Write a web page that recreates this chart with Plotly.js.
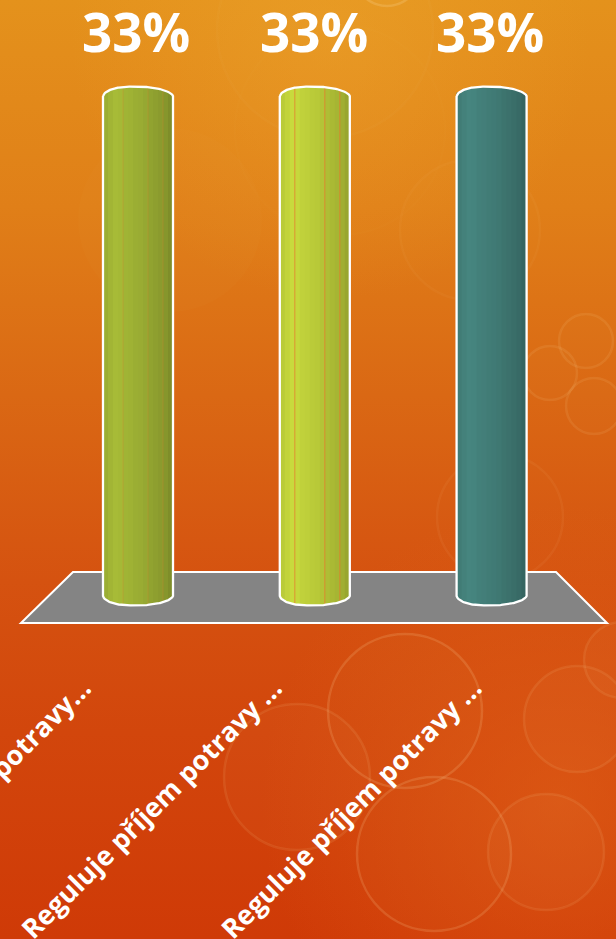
<!DOCTYPE html>
<html>
<head>
<meta charset="utf-8">
<script src="https://cdn.plot.ly/plotly-3.0.1.min.js"></script>
<style>
html,body{margin:0;padding:0;width:616px;height:939px;overflow:hidden}
body{background:
  radial-gradient(circle at 330px 40px,rgba(240,170,50,.35),rgba(240,170,50,0) 260px),
  radial-gradient(circle at 560px 800px,rgba(225,100,25,.55),rgba(225,100,25,0) 300px),
  linear-gradient(180deg,#e4921c 0%,#e07f18 22%,#da6814 42%,#d55210 62%,#d2460c 78%,#cf3a07 100%)}
#chart{width:616px;height:939px}
</style>
</head>
<body>
<div id="chart"></div>
<script>
// Survey answers
const categories = ['Reguluje příjem potravy...', 'Reguluje příjem potravy ...', 'Reguluje příjem potravy ...'];
const shares = [33, 33, 33];
const barColors = ['#a7bb37', '#c8da3d', '#46857f'];

// Category slots and where each slanted label ends
const slots = [0, 1, 2];
const labelSlots = [-0.31, 0.77, 1.9];
const valueTextShift = [-2, -1, -2];

// Plot geometry
const W = 616, H = 939, plotH = 640;
const pxPerSlot = 176.8, pxPerUnit = 15.15;
const zeroX = 138, zeroY = 596;
const xRange = [-zeroX / pxPerSlot, (W - zeroX) / pxPerSlot];
const yRange = [(zeroY - plotH) / pxPerUnit, zeroY / pxPerUnit];
const px = x => x / W;
const py = y => 1 - y / plotH;

// Cylinder look: banded shading across the width, plus faint seams between some bands
const bands = [0.93, 0.97, 1.0, 0.99, 0.96, 0.95, 0.93, 0.92, 0.9, 0.87, 0.85, 0.83, 0.8, 0.76];
const seams = [[3, 8, 11], [2, 8, 11], []];
const seamColors = ['rgba(215,130,45,0.3)', 'rgba(235,120,45,0.65)', 'rgba(0,0,0,0)'];
const radius = 0.198, capDepth = 0.62;

function shade(hex, k) {
  const n = parseInt(hex.slice(1), 16);
  const c = [n >> 16, (n >> 8) & 255, n & 255].map(v => Math.round(v * k));
  return `rgb(${c[0]},${c[1]},${c[2]})`;
}
// Height of the rounded cap at position t (-1 left edge, 1 right edge)
function cap(t) {
  const s = Math.min(1, Math.abs(t + 0.1 * (1 - t * t)));
  return capDepth * Math.pow(1 - Math.pow(s, 2.6), 0.62);
}

const traces = [];
slots.forEach((slot, i) => {
  const n = bands.length, step = 2 * radius / n;
  const xs = [], bases = [], tops = [], widths = [], cols = [];
  bands.forEach((k, j) => {
    const t = -1 + (2 * j + 1) / n;
    const d = cap(t);
    const left = slot - radius + j * step;
    const right = left + step + (j === n - 1 ? 0 : 0.005);
    xs.push((left + right) / 2);
    widths.push(right - left);
    bases.push(-d);
    tops.push(shares[i] + 2 * d);
    cols.push(shade(barColors[i], k));
  });
  traces.push({
    type: 'bar', x: xs, y: tops, base: bases, width: widths,
    marker: {color: cols, line: {width: 0}}, hoverinfo: 'skip', showlegend: false
  });
  // Hairline seams laid over the bands
  if (seams[i].length) {
    const edge = j => -1 + 2 * (j + 1) / n;
    traces.push({
      type: 'bar',
      x: seams[i].map(j => slot + edge(j) * radius),
      y: seams[i].map(j => shares[i] + 2 * cap(edge(j))),
      base: seams[i].map(j => -cap(edge(j))),
      width: seams[i].map(() => 0.006),
      marker: {color: seamColors[i], line: {width: 0}}, hoverinfo: 'skip', showlegend: false
    });
  }
  // White silhouette around the cylinder
  const ox = [], oy = [];
  for (let a = -40; a <= 40; a++) { const t = a / 40; ox.push(slot + t * radius); oy.push(shares[i] + cap(t)); }
  for (let a = 40; a >= -40; a--) { const t = a / 40; ox.push(slot + t * radius); oy.push(-cap(t)); }
  ox.push(ox[0]); oy.push(oy[0]);
  traces.push({
    type: 'scatter', mode: 'lines', x: ox, y: oy,
    line: {color: '#fff', width: 2.3}, hoverinfo: 'skip', showlegend: false
  });
});

// Soft bokeh discs behind the chart: [cx, cy, r, fill opacity, ring opacity]
const bokeh = [
  [325, 30, 108, 0.012, 0.035], [387, -27, 33, 0.03, 0.2], [340, 130, 105, 0.006, 0.015],
  [470, 230, 70, 0.012, 0.04], [170, 220, 92, 0.015, 0],
  [586, 341, 27, 0.015, 0.1], [550, 373, 27, 0.015, 0.1], [594, 406, 28, 0.015, 0.1],
  [500, 517, 63, 0.012, 0.06], [405, 711, 77, 0.02, 0.16], [297, 777, 73, 0.03, 0.1],
  [434, 854, 77, 0.02, 0.16], [577, 719, 53, 0.03, 0.1], [546, 852, 58, 0.035, 0.1],
  [622, 660, 38, 0.03, 0.1]
];
const shapes = bokeh.map(([cx, cy, r, f, o]) => ({
  type: 'circle', xref: 'paper', yref: 'paper', layer: 'below',
  x0: px(cx - r), x1: px(cx + r), y0: py(cy + r), y1: py(cy - r),
  fillcolor: `rgba(255,230,170,${f})`, line: {color: `rgba(255,225,170,${o})`, width: o ? 2.5 : 0}
}));
// Grey floor plate the cylinders stand on
shapes.push({
  type: 'path', xref: 'paper', yref: 'paper', layer: 'below',
  path: `M ${px(73)} ${py(572)} L ${px(556)} ${py(572)} L ${px(607)} ${py(623)} L ${px(21)} ${py(623)} Z`,
  fillcolor: '#848484', line: {color: '#fff', width: 2}
});

const annotations = slots.map((slot, i) => ({
  x: slot, y: shares[i], xref: 'x', yref: 'y',
  text: shares[i] + '%', showarrow: false,
  xanchor: 'center', yanchor: 'bottom', xshift: valueTextShift[i], yshift: 26,
  font: {family: '"Open Sans", sans-serif', size: 53, color: '#fff', weight: 700}
}));

const layout = {
  width: W, height: H,
  margin: {l: 0, r: 0, t: 0, b: H - plotH, pad: 0},
  paper_bgcolor: 'rgba(0,0,0,0)', plot_bgcolor: 'rgba(0,0,0,0)',
  barmode: 'overlay', showlegend: false,
  xaxis: {
    range: xRange, tickmode: 'array', tickvals: labelSlots, ticktext: categories,
    tickangle: -45, ticks: '', showgrid: false, zeroline: false, showline: false,
    automargin: false, ticklabelstandoff: 26, ticklabeloverflow: 'allow',
    tickfont: {family: '"Open Sans", sans-serif', size: 27, color: '#fff', weight: 700}
  },
  yaxis: {range: yRange, visible: false, fixedrange: true},
  shapes, annotations
};

Plotly.newPlot('chart', traces, layout, {displayModeBar: false, staticPlot: true});
</script>
</body>
</html>
